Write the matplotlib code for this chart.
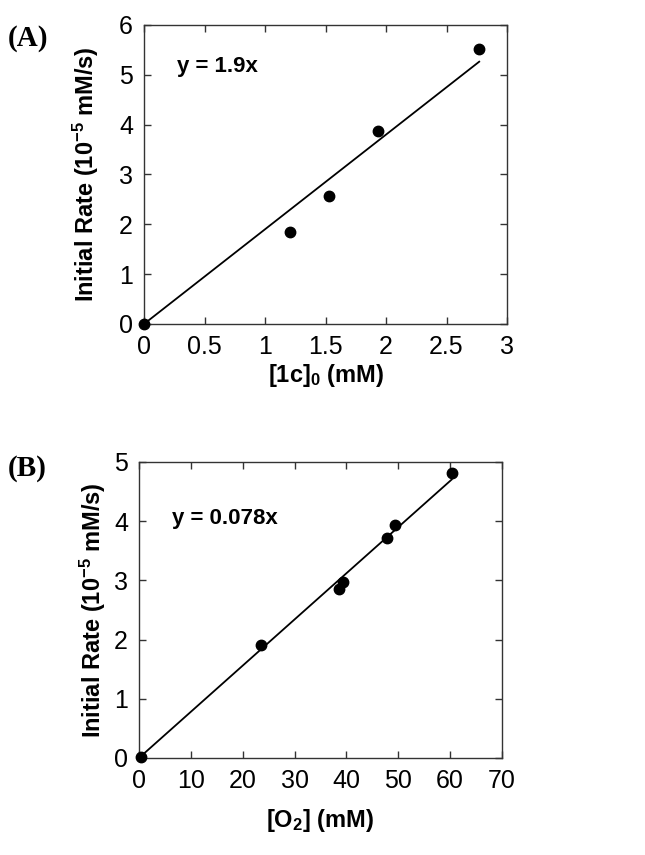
"""
Initial rate vs. concentration, two panels (A) and (B)
"""

import matplotlib
matplotlib.use("Agg")
import matplotlib.pyplot as plt
import numpy as np

# panel A: initial rate vs [1c]0
conc_1c = [0.0, 1.21, 1.53, 1.93, 2.77]
rate_a = [0.0, 1.85, 2.57, 3.88, 5.52]
slope_a = 1.9

# panel B: initial rate vs [O2]
conc_o2 = [0.3, 23.6, 38.6, 39.4, 47.9, 49.3, 60.3]
rate_b = [0.02, 1.90, 2.85, 2.98, 3.72, 3.93, 4.82]
slope_b = 0.078

xticks_a = [0, 0.5, 1, 1.5, 2, 2.5, 3]
xtick_labels_a = ["0", "0.5", "1", "1.5", "2", "2.5", "3"]
yticks_a = [0, 1, 2, 3, 4, 5, 6]
xticks_b = [0, 10, 20, 30, 40, 50, 60, 70]
yticks_b = [0, 1, 2, 3, 4, 5]

sans = ["Liberation Sans", "DejaVu Sans"]
plt.rcParams["font.family"] = sans
plt.rcParams["mathtext.fontset"] = "custom"
plt.rcParams["mathtext.default"] = "bf"
plt.rcParams["mathtext.rm"] = "Liberation Sans:bold"
plt.rcParams["mathtext.it"] = "Liberation Sans:bold"
plt.rcParams["mathtext.bf"] = "Liberation Sans:bold"

fig = plt.figure(figsize=(6.45, 8.55), dpi=100)
ax_a = fig.add_axes([0.2233, 0.6211, 0.5628, 0.3497])
ax_b = fig.add_axes([0.2155, 0.1135, 0.5628, 0.3462])


def style_axes(ax):
    for sp in ax.spines.values():
        sp.set_color("#333333")
        sp.set_linewidth(1.0)
    ax.tick_params(direction="in", top=True, right=True, length=5,
                   width=1.0, color="#333333", labelsize=18, pad=8)


# --- panel A ---
ax_a.plot(conc_1c, rate_a, "o", color="black", markersize=7.5, clip_on=False, zorder=3)
xa = np.array([0, max(conc_1c)])
ax_a.plot(xa, slope_a * xa, color="black", linewidth=1.3)
ax_a.set_xlim(0, 3)
ax_a.set_ylim(0, 6)
ax_a.set_xticks(xticks_a)
ax_a.set_xticklabels(xtick_labels_a)
ax_a.set_yticks(yticks_a)
style_axes(ax_a)
ax_a.set_xlabel(r"[1c]$_0$ (mM)", fontsize=17, fontweight="bold", labelpad=2)
ax_a.set_ylabel(r"Initial Rate (10$^{-5}$ mM/s)", fontsize=17, fontweight="bold", labelpad=13)
ax_a.text(0.09, 0.86, "y = 1.9x", transform=ax_a.transAxes, fontsize=16,
          fontweight="bold", va="center")
fig.text(0.012, 0.955, "(A)", family=["Liberation Serif", "DejaVu Serif"],
         fontsize=21, fontweight="bold", va="center")

# --- panel B ---
ax_b.plot(conc_o2, rate_b, "o", color="black", markersize=7.5, clip_on=False, zorder=3)
xb = np.array([0, max(conc_o2)])
ax_b.plot(xb, slope_b * xb, color="black", linewidth=1.3)
ax_b.set_xlim(0, 70)
ax_b.set_ylim(0, 5)
ax_b.set_xticks(xticks_b)
ax_b.set_yticks(yticks_b)
style_axes(ax_b)
ax_b.set_xlabel(r"[O$_2$] (mM)", fontsize=17, fontweight="bold", labelpad=10)
ax_b.set_ylabel(r"Initial Rate (10$^{-5}$ mM/s)", fontsize=17, fontweight="bold", labelpad=4)
ax_b.text(0.09, 0.81, "y = 0.078x", transform=ax_b.transAxes, fontsize=16,
          fontweight="bold", va="center")
fig.text(0.012, 0.452, "(B)", family=["Liberation Serif", "DejaVu Serif"],
         fontsize=21, fontweight="bold", va="center")

fig.savefig("out.png", dpi=100)
